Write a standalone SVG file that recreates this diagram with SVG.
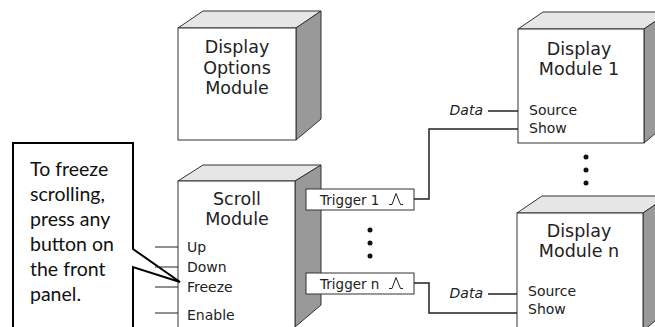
<svg xmlns="http://www.w3.org/2000/svg" width="655" height="327" viewBox="0 0 655 327">
<style>
.front{fill:#ffffff;stroke:#333333;stroke-width:1}
.top{fill:#e6e6e6;stroke:#333333;stroke-width:1}
.side{fill:#999999;stroke:#333333;stroke-width:1}
.title{font-family:"DejaVu Sans",Verdana,sans-serif;font-size:17.5px;fill:#222222;text-anchor:middle}
.lbl{font-family:"DejaVu Sans",Verdana,sans-serif;font-size:14px;fill:#222222}
.trig{font-family:"DejaVu Sans",Verdana,sans-serif;font-size:13.5px;fill:#222222}
.data{font-family:"DejaVu Sans",Verdana,sans-serif;font-size:14px;font-style:italic;fill:#222222;text-anchor:end}
.wire{fill:none;stroke:#222222;stroke-width:1.5}
.thin{fill:none;stroke:#222222;stroke-width:1}
.callout{font-family:Lato,"Open Sans",sans-serif;font-size:19.5px;fill:#111111}
.dot{fill:#111111}
</style>
<rect width="655" height="327" fill="#ffffff"/>

<g id="display-options">
<polygon class="top" points="178,28 203,11 321,11 296,28"/>
<polygon class="side" points="296,28 321,11 321,119 296,140"/>
<rect class="front" x="178" y="28" width="118" height="112"/>
<text class="title" x="237" y="53">Display</text>
<text class="title" x="237" y="73.5">Options</text>
<text class="title" x="237" y="94">Module</text>
</g>

<g id="scroll-module">
<polygon class="top" points="178,181 203,165 321,165 295,181"/>
<polygon class="side" points="295,181 321,165 321,305 295,327"/>
<rect class="front" x="178" y="181" width="117" height="150"/>
<text class="title" x="237" y="205">Scroll</text>
<text class="title" x="237" y="225">Module</text>
<text class="lbl" x="187" y="252">Up</text>
<text class="lbl" x="187" y="272">Down</text>
<text class="lbl" x="187" y="292">Freeze</text>
<text class="lbl" x="187" y="320">Enable</text>
</g>

<g id="display-module-1">
<polygon class="top" points="518,29 543,12 669,12 644,29"/>
<polygon class="side" points="644,29 669,12 669,122 644,143"/>
<rect class="front" x="518" y="29" width="126" height="114"/>
<text class="title" x="579" y="55">Display</text>
<text class="title" x="579" y="74.5">Module 1</text>
<text class="lbl" x="529" y="115">Source</text>
<text class="lbl" x="529" y="133">Show</text>
</g>

<g id="display-module-n">
<polygon class="top" points="517,213 542,196 668,196 643,213"/>
<polygon class="side" points="643,213 668,196 668,310 643,331"/>
<rect class="front" x="517" y="213" width="126" height="118"/>
<text class="title" x="579" y="237">Display</text>
<text class="title" x="579" y="257">Module n</text>
<text class="lbl" x="528" y="296">Source</text>
<text class="lbl" x="528" y="314">Show</text>
</g>

<g id="trigger-1">
<rect class="front" x="306" y="189" width="108" height="21"/>
<text class="trig" x="320" y="205">Trigger 1</text>
<path class="thin" d="M389,204.5 H392 L396,193.5 L400.5,204.5 H403"/>
</g>

<g id="trigger-n">
<rect class="front" x="306" y="273" width="108" height="21"/>
<text class="trig" x="320" y="289">Trigger n</text>
<path class="thin" d="M389,288.5 H392 L396,277.5 L400.5,288.5 H403"/>
</g>

<g id="callout">
<path d="M13,335 V143 H133 V249 L180,282 L133,267 V335" fill="#ffffff" stroke="#000000" stroke-width="2" stroke-linejoin="miter"/>
<text class="callout" x="30" y="176">To freeze</text>
<text class="callout" x="30" y="201">scrolling,</text>
<text class="callout" x="30" y="226">press any</text>
<text class="callout" x="30" y="251">button on</text>
<text class="callout" x="30" y="276">the front</text>
<text class="callout" x="30" y="301">panel.</text>
</g>

<g id="connectors">
<line class="thin" x1="155" y1="247" x2="178" y2="247"/>
<line class="thin" x1="155" y1="267" x2="178" y2="267"/>
<line class="thin" x1="155" y1="287" x2="178" y2="287"/>
<line class="thin" x1="155" y1="313" x2="178" y2="313"/>
<polyline class="wire" points="414,199 429,199 429,129 518,129"/>
<polyline class="wire" points="414,283 429,283 429,313 517,313"/>
<line class="wire" x1="488" y1="111" x2="518" y2="111"/>
<text class="data" x="483" y="115">Data</text>
<line class="wire" x1="488" y1="294" x2="517" y2="294"/>
<text class="data" x="483" y="298">Data</text>
</g>

<g id="ellipsis-triggers">
<circle class="dot" cx="370" cy="230" r="2.5"/>
<circle class="dot" cx="370" cy="243" r="2.5"/>
<circle class="dot" cx="370" cy="256" r="2.5"/>
</g>
<g id="ellipsis-displays">
<circle class="dot" cx="586" cy="157" r="2.5"/>
<circle class="dot" cx="586" cy="170" r="2.5"/>
<circle class="dot" cx="586" cy="183" r="2.5"/>
</g>
</svg>
